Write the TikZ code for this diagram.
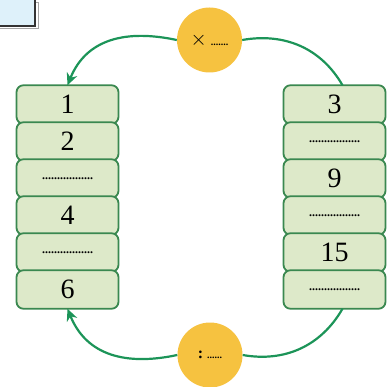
\documentclass[tikz,border=0pt]{standalone}
\usepackage{fontspec}
\setmainfont{Liberation Serif}
\usetikzlibrary{arrows.meta}
\definecolor{boxfill}{RGB}{221,233,201}
\definecolor{boxline}{RGB}{58,136,80}
\definecolor{arrowgreen}{RGB}{28,148,88}
\definecolor{circfill}{RGB}{246,194,64}
\definecolor{cornerfill}{RGB}{222,241,250}
\begin{document}
\begin{tikzpicture}[x=1pt,y=1pt,
  cell/.style={draw=boxline, line width=1.8pt, fill=boxfill, rounded corners=7pt,
    minimum width=102pt, minimum height=38.5pt, inner sep=0pt, outer sep=0pt,
    font=\fontsize{28}{28}\selectfont},
  bubble/.style={circle, fill=circfill, minimum size=65pt, inner sep=0pt},
  link/.style={draw=arrowgreen, line width=2.2pt},
  linkarrow/.style={link, -{Stealth[length=12pt,width=11pt]}}
]
\useasboundingbox (0,0) rectangle (387,386);
% corner box (cut off)
\draw[gray!70, line width=1pt] (-5,383) rectangle (38,357);
\draw[fill=cornerfill, draw=black!80, line width=1.4pt] (-5,391) rectangle (35,360);
\newcommand{\dotsline}{{\fontsize{12}{12}\selectfont\bfseries .................}}
% left column
\node[cell] (l1) at (67.5,281.5) {1};
\node[cell] (l2) at (67.5,244.5) {2};
\node[cell] (l3) at (67.5,207.5) {\dotsline};
\node[cell] (l4) at (67.5,170.5) {4};
\node[cell] (l5) at (67.5,133.5) {\dotsline};
\node[cell] (l6) at (67.5,96.5) {6};
% right column
\node[cell] (r1) at (334.5,281.5) {3};
\node[cell] (r2) at (334.5,244.5) {\dotsline};
\node[cell] (r3) at (334.5,207.5) {9};
\node[cell] (r4) at (334.5,170.5) {\dotsline};
\node[cell] (r5) at (334.5,133.5) {15};
\node[cell] (r6) at (334.5,96.5) {\dotsline};
% bubbles
\node[bubble] (top) at (209.5,346) {{\fontsize{20}{20}\selectfont$\times$}\hspace{4pt}{\fontsize{10}{10}\selectfont\bfseries .......}};
\node[bubble] (bot) at (210,31) {{\fontsize{16}{16}\selectfont\bfseries :}\hspace{4pt}{\fontsize{10}{10}\selectfont\bfseries ......}};
% connectors
\draw[linkarrow] (top.west) to[out=168, in=68, looseness=1.1] (l1.north);
\draw[link] (top.east) to[out=10, in=120] ([xshift=8pt]r1.north);
\draw[link] ([xshift=8pt]r6.south) to[out=-120, in=-10] (bot.east);
\draw[linkarrow] (bot.west) to[out=192, in=-68, looseness=1.1] (l6.south);
\end{tikzpicture}
\end{document}
